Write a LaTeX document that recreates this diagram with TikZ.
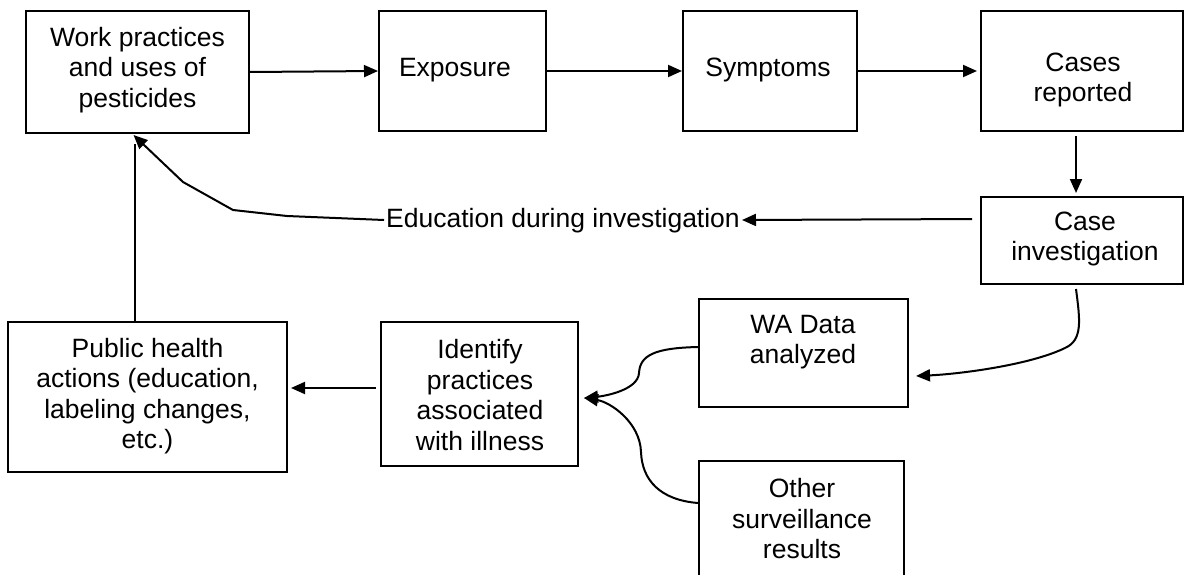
\documentclass[tikz,border=0pt]{standalone}
\usepackage{fontspec}
\setmainfont{Liberation Sans}
\usetikzlibrary{arrows.meta}
\begin{document}
\begin{tikzpicture}[x=1pt,y=-1pt,
  box/.style={draw, line width=2pt, inner sep=0pt, rectangle},
  txt/.style={align=center, inner sep=0pt, font=\fontsize{26.5}{30.5}\selectfont},
  arr/.style={line width=2pt, -{Triangle[length=14pt,width=12pt]}},
  ln/.style={line width=2pt}]
\useasboundingbox (0,0) rectangle (1185,575);
\clip (0,0) rectangle (1185,575);
% boxes
\node[box, minimum width=223pt, minimum height=122pt] (work) at (137.5,72) {};
\node[box, minimum width=167pt, minimum height=120pt] (exposure) at (462.5,71) {};
\node[box, minimum width=174pt, minimum height=120pt] (symptoms) at (770,71) {};
\node[box, minimum width=202pt, minimum height=120pt] (cases) at (1082,71) {};
\node[box, minimum width=202pt, minimum height=87pt] (caseinv) at (1082,240.5) {};
\node[box, minimum width=209pt, minimum height=108pt] (wa) at (803.5,353) {};
\node[box, minimum width=205pt, minimum height=159pt] (other) at (801.5,540.5) {};
\node[box, minimum width=279pt, minimum height=150pt] (public) at (147.5,397) {};
\node[box, minimum width=197pt, minimum height=144pt] (identify) at (479.5,394) {};
% texts
\node[txt] (work-t) at (137.5,70) {Work practices\\and uses of\\pesticides};
\node[txt] (exposure-t) at (455,70) {Exposure};
\node[txt] (symptoms-t) at (768,70) {Symptoms};
\node[txt] (cases-t) at (1083,80) {Cases\\reported};
\node[txt] (caseinv-t) at (1085,239) {Case\\investigation};
\node[txt] (wa-t) at (803,342) {WA Data\\analyzed};
\node[txt] (other-t) at (802,519) {Other\\surveillance\\results};
\node[txt] (public-t) at (147.5,396) {Public health\\actions (education,\\labeling changes,\\etc.)};
\node[txt] (identify-t) at (480,395) {Identify\\practices\\associated\\with illness};
\node[txt, inner sep=2pt] (edu) at (563,221) {Education during investigation};
% connectors
\draw[arr] (work.east) -- (exposure.west);
\draw[arr] (exposure.east) -- (symptoms.west);
\draw[arr, shorten >=3pt] (symptoms.east) -- (cases.west);
\draw[arr, shorten <=4pt, shorten >=3pt] ([xshift=-6pt]cases.south) -- ([xshift=-6pt]caseinv.north);
\draw[arr, shorten <=8pt] ([yshift=21.5pt]caseinv.west) -- ([yshift=1pt]edu.east);
\draw[arr] ([yshift=1pt]edu.west) -- (287,216) -- (233,210) -- (183,182) -- ([xshift=-4pt,yshift=-1pt]work.south);
\draw[ln] ([xshift=-12.5pt]public.north) -- ([xshift=-2.5pt,yshift=-10pt]work.south);
\draw[arr] ([xshift=-6pt,yshift=-4pt]caseinv.south) .. controls (1080,320) and (1083,340) .. (1065,348)
  .. controls (1030,365) and (960,374) .. ([xshift=7pt,yshift=-23pt]wa.east);
\draw[arr] ([yshift=6pt]wa.west) .. controls (655,348) and (640,355) .. (639,373)
  .. controls (638,390) and (605,396) .. ([xshift=5pt,yshift=-4pt]identify.east);
\draw[arr] ([yshift=37.5pt]other.west) .. controls (660,500) and (642,480) .. (641,452)
  .. controls (640,422) and (610,402) .. ([xshift=5pt,yshift=-4pt]identify.east);
\draw[arr, shorten <=4pt, shorten >=3pt] ([yshift=6pt]identify.west) -- ([yshift=6pt]identify.west -| public.east);
\end{tikzpicture}
\end{document}
